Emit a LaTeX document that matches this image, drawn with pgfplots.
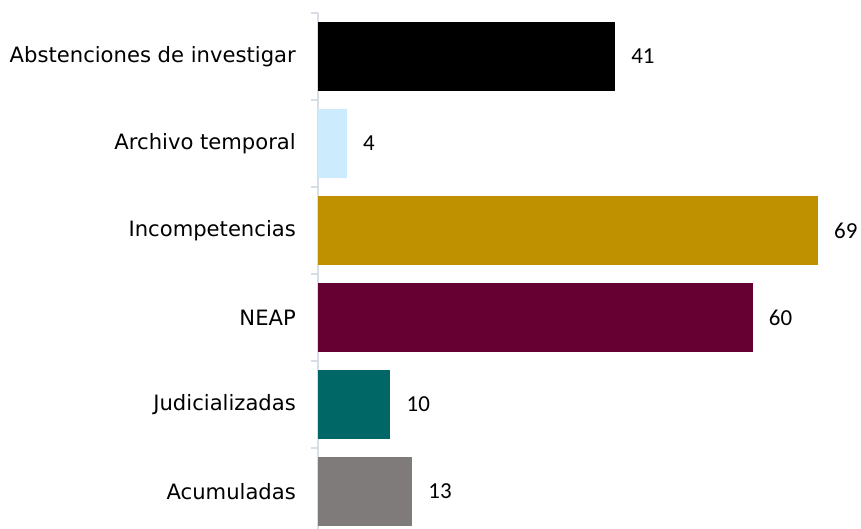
\documentclass[border=0pt]{standalone}
\usepackage{pgfplots}
\pgfplotsset{compat=1.18}
\usepackage{fontspec}
\setmainfont{DejaVu Sans}
\newfontfamily\numfont{Carlito}
\definecolor{axiscol}{HTML}{D9DEE6}
\definecolor{cA}{HTML}{000000}
\definecolor{cB}{HTML}{CCEBFD}
\definecolor{cC}{HTML}{BF9000}
\definecolor{cD}{HTML}{660033}
\definecolor{cE}{HTML}{006666}
\definecolor{cF}{HTML}{7F7B7B}
\begin{document}
\begin{tikzpicture}[x=1bp,y=1bp]
\useasboundingbox (0,0) rectangle (861,529);
\begin{axis}[
  at={(318bp,0bp)}, anchor=south west,
  scale only axis, width=512bp, height=516bp,
  xmin=0, xmax=70.66, ymin=-0.5, ymax=5.43, y dir=reverse,
  axis x line=none,
  axis y line=left,
  y axis line style={-,draw=axiscol,line width=1.5bp},
  xbar, bar width=69bp, clip=false,
  ytick={0,1,2,3,4,5},
  yticklabels={Abstenciones de investigar, Archivo temporal, Incompetencias, NEAP, Judicializadas, Acumuladas},
  major tick length=0pt,
  yticklabel style={font=\fontsize{21.2}{25}\selectfont, inner sep=0pt, anchor=east, xshift=-22bp},
  extra y ticks={-0.5,0.5,1.5,2.5,3.5,4.5},
  extra y tick labels={},
  extra y tick style={major tick length=7bp, tick align=outside, tick style={draw=axiscol,line width=1.5bp}},
  nodes near coords,
  every node near coord/.append style={anchor=west, inner sep=0pt, xshift=16bp, font=\numfont\fontsize{23}{27}\selectfont, text=black},
  /pgf/number format/assume math mode=true,
]
\addplot[fill=cA, draw=none, bar shift=0pt] coordinates {(41,0)};
\addplot[fill=cB, draw=none, bar shift=0pt] coordinates {(4,1)};
\addplot[fill=cC, draw=none, bar shift=0pt] coordinates {(69,2)};
\addplot[fill=cD, draw=none, bar shift=0pt] coordinates {(60,3)};
\addplot[fill=cE, draw=none, bar shift=0pt] coordinates {(10,4)};
\addplot[fill=cF, draw=none, bar shift=0pt] coordinates {(13,5)};
\end{axis}
\end{tikzpicture}
\end{document}
